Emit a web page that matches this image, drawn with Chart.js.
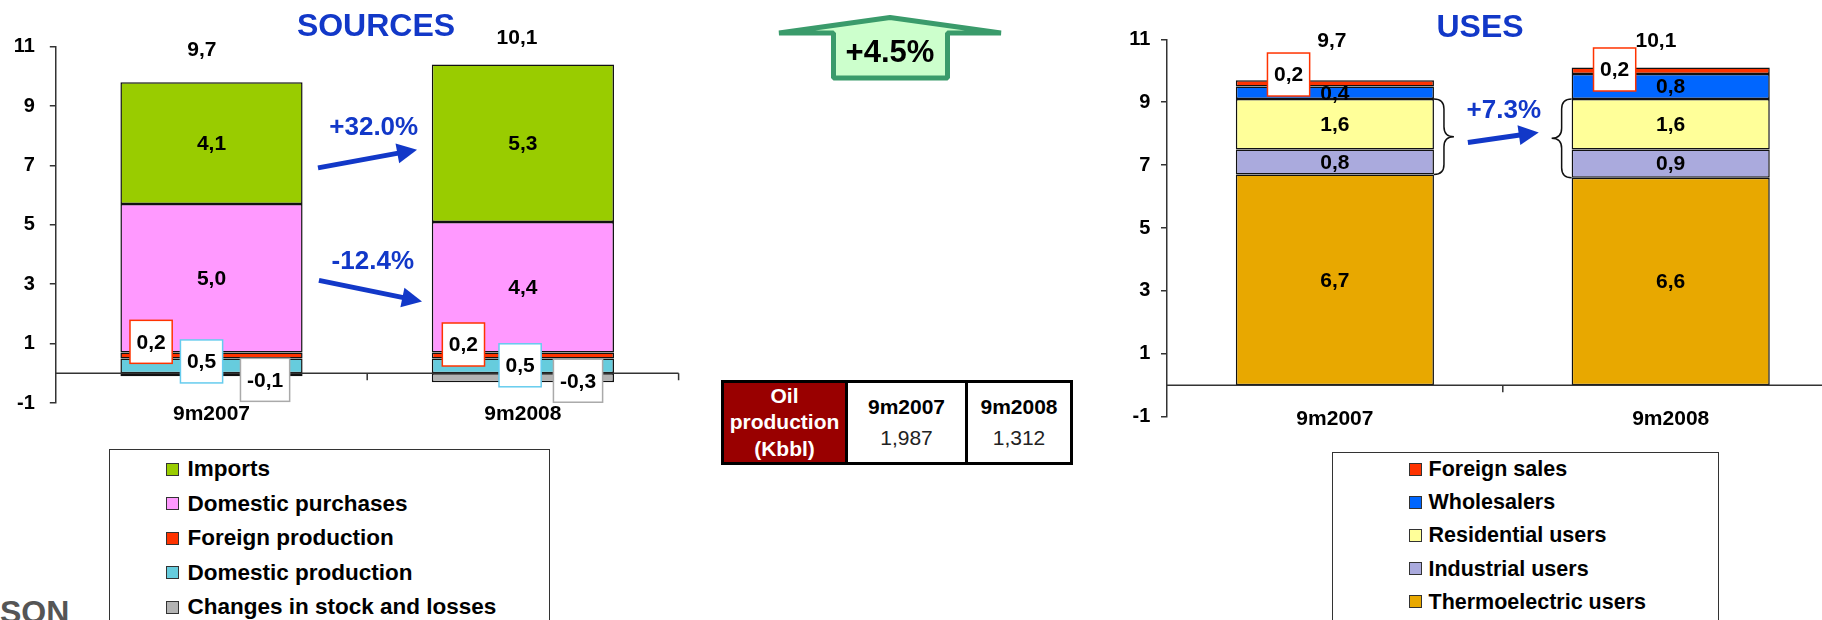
<!DOCTYPE html>
<html>
<head>
<meta charset="utf-8">
<title>Sources and Uses</title>
<script src="https://cdn.jsdelivr.net/npm/chart.js@4.4.1/dist/chart.umd.min.js"></script>
<style>
  html, body { margin:0; padding:0; background:#fff; }
  body { position:relative; width:1822px; height:620px; overflow:hidden; font-family:"Liberation Sans", Arial, Helvetica, sans-serif; }
  .abs { position:absolute; }
  .title { position:absolute; font-weight:bold; font-size:32px; line-height:32px; color:#1238c8; text-align:center; width:300px; }
  .legend-box { position:absolute; border:1.5px solid #333; background:#fff; box-sizing:border-box; }
  .legend-item { position:absolute; height:24px; line-height:24px; font-weight:bold; color:#000; white-space:nowrap; }
  .legend-sw { position:absolute; width:11px; height:11px; border:1px solid #333; }
  .cell { position:absolute; text-align:center; font-size:21px; }
  #growth { position:absolute; left:790px; top:34px; width:200px; text-align:center; font-weight:bold; font-size:31px; line-height:36px; color:#000; }
  #logo { position:absolute; left:0; top:596px; font-size:32px; line-height:32px; font-weight:bold; color:#555; }
</style>
</head>
<body>
<div class="abs" style="left:0;top:0;"><canvas id="sources" width="700" height="430"></canvas></div>
<div class="abs" style="left:1120px;top:0;"><canvas id="uses" width="730" height="445"></canvas></div>
<div class="title" style="left:226px;top:9px;">SOURCES</div>
<div class="title" style="left:1330px;top:10px;">USES</div>

<svg class="abs" style="left:0;top:0;" width="1822" height="120" viewBox="0 0 1822 120">
  <polygon points="779,33 890,17.5 1001,33 947.5,33 947.5,78 833.5,78 833.5,33" fill="#ccffcc" stroke="#3a9b6b" stroke-width="5" stroke-linejoin="bevel"/>
</svg>
<div id="growth"></div>

<div id="oil"></div>

<div id="legend-left" class="legend-box" style="left:109px;top:449px;width:441px;height:200px;"></div>
<div id="legend-right" class="legend-box" style="left:1332px;top:452px;width:387px;height:200px;"></div>
<div id="logo">SON</div>

<script>
// ---------------- DATA ----------------
const categories = ['9m2007', '9m2008'];
const yTicks = [-1, 1, 3, 5, 7, 9, 11];

// SOURCES (stack order bottom -> top)
const sourceSeries = ['Changes in stock and losses', 'Domestic production', 'Foreign production', 'Domestic purchases', 'Imports'];
const changesInStock     = [-0.1, -0.3];
const domesticProduction = [0.5, 0.5];
const foreignProduction  = [0.2, 0.2];
const domesticPurchases  = [5.0, 4.4];
const imports            = [4.1, 5.3];
const sourceTotals       = [9.7, 10.1];

// USES (stack order bottom -> top)
const useSeries = ['Thermoelectric users', 'Industrial users', 'Residential users', 'Wholesalers', 'Foreign sales'];
const thermoelectric = [6.7, 6.6];
const industrial     = [0.8, 0.9];
const residential    = [1.6, 1.6];
const wholesalers    = [0.4, 0.8];
const foreignSales   = [0.2, 0.2];
const useTotals      = [9.7, 10.1];

// Growth figures
const totalGrowth = '+4.5%';
const importsGrowth = '+32.0%';
const purchasesGrowth = '-12.4%';
const residentialIndustrialGrowth = '+7.3%';

// Oil production table
const oilHeader = ['Oil', 'production', '(Kbbl)'];
const oilPeriods = ['9m2007', '9m2008'];
const oilProduction = ['1,987', '1,312'];

// ---------------- STYLE ----------------
const FONT = '"Liberation Sans", Arial, Helvetica, sans-serif';
const BLUE = '#1238c8';
const sourceColors = ['#b3b3b3', '#66ccdd', '#ff3300', '#ff99ff', '#99cc00'];
const useColors = ['#e8a800', '#aaaadd', '#ffff99', '#0066ff', '#ff3300'];

Chart.defaults.font.family = FONT;

function fmt(v) { return v.toFixed(1).replace('.', ','); }

function drawArrow(ctx, x1, y1, x2, y2, color) {
  const headLen = 20, headW = 10, w = 5;
  const ang = Math.atan2(y2 - y1, x2 - x1);
  const bx = x2 - headLen * Math.cos(ang), by = y2 - headLen * Math.sin(ang);
  ctx.save();
  ctx.strokeStyle = color; ctx.fillStyle = color; ctx.lineWidth = w;
  ctx.beginPath(); ctx.moveTo(x1, y1); ctx.lineTo(bx + Math.cos(ang), by + Math.sin(ang)); ctx.stroke();
  ctx.beginPath(); ctx.moveTo(x2, y2);
  ctx.lineTo(bx + headW * Math.sin(ang), by - headW * Math.cos(ang));
  ctx.lineTo(bx - headW * Math.sin(ang), by + headW * Math.cos(ang));
  ctx.closePath(); ctx.fill();
  ctx.restore();
}

function drawBrace(ctx, x0, xt, yTop, yBot) {
  const xm = (x0 + xt) / 2, ym = (yTop + yBot) / 2, r = Math.abs(xt - x0) / 2;
  ctx.save();
  ctx.strokeStyle = '#111'; ctx.lineWidth = 1.5;
  ctx.beginPath();
  ctx.moveTo(x0, yTop);
  ctx.quadraticCurveTo(xm, yTop, xm, yTop + r);
  ctx.lineTo(xm, ym - r);
  ctx.quadraticCurveTo(xm, ym, xt, ym);
  ctx.quadraticCurveTo(xm, ym, xm, ym + r);
  ctx.lineTo(xm, yBot - r);
  ctx.quadraticCurveTo(xm, yBot, x0, yBot);
  ctx.stroke();
  ctx.restore();
}

function makeDecor(cfg) {
  return {
    id: 'decor_' + cfg.name,
    afterDatasetsDraw(chart) {
      const ctx = chart.ctx, xs = chart.scales.x, ys = chart.scales.y, ca = chart.chartArea;
      const px = v => xs.getPixelForValue(v), py = v => ys.getPixelForValue(v);
      // zero axis line with category separators
      const y0 = py(0);
      ctx.save();
      ctx.strokeStyle = '#333'; ctx.lineWidth = 1.5;
      ctx.beginPath(); ctx.moveTo(ca.left, y0); ctx.lineTo(ca.right, y0);
      for (let i = 0; i < chart.data.labels.length; i++) {
        const xb = px(i + 0.5);
        ctx.moveTo(xb, y0); ctx.lineTo(xb, y0 + 7);
      }
      ctx.stroke();
      ctx.restore();

      // category labels drawn from the x scale (when the axis labels are hidden)
      if (cfg.categoryLabelAt !== undefined) {
        ctx.save();
        ctx.font = 'bold 21px ' + FONT; ctx.textAlign = 'center'; ctx.textBaseline = 'middle'; ctx.fillStyle = '#000';
        chart.data.labels.forEach((l, i) => ctx.fillText(l, px(i), py(cfg.categoryLabelAt)));
        ctx.restore();
      }

      // inline segment labels
      ctx.save();
      ctx.font = 'bold 21px ' + FONT; ctx.textAlign = 'center'; ctx.textBaseline = 'middle'; ctx.fillStyle = '#000';
      chart.data.datasets.forEach((ds, di) => {
        if (!ds.inlineLabel) return;
        chart.getDatasetMeta(di).data.forEach((el, i) => {
          ctx.fillText(fmt(ds.data[i]), el.x, (el.y + el.base) / 2 + 1);
        });
      });
      ctx.restore();

      // braces
      (cfg.braces || []).forEach(b => {
        const lo = chart.getDatasetMeta(b.fromDs).data[b.index];
        const hi = chart.getDatasetMeta(b.toDs).data[b.index];
        const edge = b.side === 'right' ? hi.x + hi.width / 2 : hi.x - hi.width / 2;
        const tip = b.side === 'right' ? edge + 20 : edge - 20;
        drawBrace(ctx, edge, tip, hi.y, lo.base);
      });

      // arrows and growth labels
      (cfg.arrows || []).forEach(a => {
        drawArrow(ctx, px(a.from[0]), py(a.from[1]), px(a.to[0]), py(a.to[1]), BLUE);
        ctx.save();
        ctx.font = 'bold 26px ' + FONT; ctx.textAlign = 'center'; ctx.textBaseline = 'middle'; ctx.fillStyle = BLUE;
        ctx.fillText(a.text, px(a.at[0]), py(a.at[1]));
        ctx.restore();
      });

      // totals
      ctx.save();
      ctx.font = 'bold 21px ' + FONT; ctx.textAlign = 'center'; ctx.textBaseline = 'middle'; ctx.fillStyle = '#000';
      cfg.totals.forEach((t, i) => ctx.fillText(fmt(t), px(cfg.totalAt[i][0]), py(cfg.totalAt[i][1])));
      ctx.restore();

      // callout boxes
      (cfg.callouts || []).forEach(c => {
        const ds = chart.data.datasets[c.ds];
        c.at.forEach((pos, i) => {
          const txt = fmt(ds.data[i]);
          ctx.save();
          ctx.font = 'bold 21px ' + FONT;
          const w = ctx.measureText(txt).width + 13, h = 43;
          const cx = px(pos[0]), cy = py(pos[1]);
          ctx.fillStyle = '#fff';
          ctx.fillRect(cx - w / 2, cy - h / 2, w, h);
          ctx.strokeStyle = c.color; ctx.lineWidth = 1.5;
          ctx.strokeRect(cx - w / 2, cy - h / 2, w, h);
          ctx.fillStyle = '#000'; ctx.textAlign = 'center'; ctx.textBaseline = 'middle';
          ctx.fillText(txt, cx, cy + 1);
          ctx.restore();
        });
      });
    }
  };
}

function baseOptions(o) {
  return {
    responsive: false, animation: false, devicePixelRatio: 1,
    layout: { padding: o.padding },
    plugins: { legend: { display: false }, tooltip: { enabled: false } },
    datasets: { bar: { categoryPercentage: 1, barPercentage: o.barPct } },
    scales: {
      x: {
        stacked: true, offset: true,
        border: { display: false },
        grid: { display: false, drawTicks: false },
        ticks: { display: o.xTicks, font: { size: 21, weight: 'bold' }, color: '#000', padding: o.xPad, maxRotation: 0 },
        afterFit(s) { s.height = o.xHeight; }
      },
      y: {
        stacked: true, min: -1, max: 11,
        afterBuildTicks(s) { s.ticks = yTicks.map(v => ({ value: v })); },
        afterFit(s) { s.width = o.yWidth; },
        border: { display: true, color: '#333', width: 1.5 },
        grid: { drawOnChartArea: false, drawTicks: true, tickLength: 6, color: '#333', lineWidth: 1.5 },
        ticks: { font: { size: 20, weight: 'bold' }, color: '#000', padding: o.yPad }
      }
    }
  };
}

function ds(label, data, color, inline) {
  return { label, data, backgroundColor: color, borderColor: '#111', borderWidth: 1.5, borderSkipped: false, inlineLabel: inline };
}

// ---------------- SOURCES CHART ----------------
const sourceValues = [changesInStock, domesticProduction, foreignProduction, domesticPurchases, imports];
const sourceInline = [false, false, false, true, true];
new Chart(document.getElementById('sources'), {
  type: 'bar',
  data: {
    labels: categories,
    datasets: sourceSeries.map((n, i) => ds(n, sourceValues[i], sourceColors[i], sourceInline[i]))
  },
  options: baseOptions({ padding: { top: 46.7, left: 0, right: 21.4, bottom: 1 }, barPct: 0.585, xTicks: true, xPad: -1, xHeight: 25, yWidth: 55.8, yPad: 15 }),
  plugins: [makeDecor({
    name: 'sources',
    totals: sourceTotals,
    totalAt: [[-0.031, 10.89], [0.981, 11.29]],
    callouts: [
      { ds: 2, color: '#ff3300', at: [[-0.194, 1.06], [0.809, 0.97]] },
      { ds: 1, color: '#66ccee', at: [[-0.032, 0.40], [0.991, 0.27]] },
      { ds: 0, color: '#aaaaaa', at: [[0.172, -0.22], [1.177, -0.25]] }
    ],
    arrows: [
      { from: [0.342, 6.92], to: [0.660, 7.53], text: importsGrowth, at: [0.521, 8.27] },
      { from: [0.345, 3.13], to: [0.676, 2.42], text: purchasesGrowth, at: [0.518, 3.76] }
    ]
  })]
});

// ---------------- USES CHART ----------------
const useValues = [thermoelectric, industrial, residential, wholesalers, foreignSales];
const useInline = [true, true, true, true, false];
new Chart(document.getElementById('uses'), {
  type: 'bar',
  data: {
    labels: categories,
    datasets: useSeries.map((n, i) => ds(n, useValues[i], useColors[i], useInline[i]))
  },
  options: baseOptions({ padding: { top: 39.3, left: 0, right: 11.4, bottom: 28.3 }, barPct: 0.59, xTicks: false, xPad: 0, xHeight: 0, yWidth: 47, yPad: 10.6 }),
  plugins: [makeDecor({
    name: 'uses',
    categoryLabelAt: -1.083,
    totals: useTotals,
    totalAt: [[-0.009, 10.93], [0.956, 10.93]],
    callouts: [
      { ds: 4, color: '#ff3300', at: [[-0.138, 9.88], [0.833, 10.04]] }
    ],
    braces: [
      { index: 0, fromDs: 1, toDs: 2, side: 'right' },
      { index: 1, fromDs: 1, toDs: 2, side: 'left' }
    ],
    arrows: [
      { from: [0.396, 7.72], to: [0.607, 8.04], text: residentialIndustrialGrowth, at: [0.503, 8.73] }
    ]
  })]
});

// ---------------- HTML PARTS ----------------
document.getElementById('growth').textContent = totalGrowth;

(function buildTable() {
  const t = document.getElementById('oil');
  const add = (style, html, cls) => {
    const d = document.createElement('div');
    d.className = cls || 'abs';
    d.setAttribute('style', style);
    if (html !== undefined) d.innerHTML = html;
    t.appendChild(d);
  };
  // frame and cells
  add('left:721px;top:380px;width:352px;height:85px;border:3px solid #000;box-sizing:border-box;background:#fff;');
  add('left:724px;top:383px;width:121px;height:79px;background:#990000;');
  add('left:845px;top:383px;width:3px;height:79px;background:#000;');
  add('left:965px;top:383px;width:3px;height:79px;background:#000;');
  // header text
  add('left:724px;top:383px;width:121px;line-height:26.3px;color:#fff;font-weight:bold;', oilHeader.join('<br>'), 'cell');
  // period columns
  const cols = [[848, 117], [968, 102]];
  oilPeriods.forEach((p, i) => {
    add('left:' + cols[i][0] + 'px;top:391px;width:' + cols[i][1] + 'px;line-height:31px;color:#222;',
        '<b style="color:#000">' + p + '</b><br>' + oilProduction[i], 'cell');
  });
})();

function buildLegend(el, names, colors, o) {
  const order = names.map((n, i) => i).reverse();
  order.forEach((idx, row) => {
    const cy = o.y0 + row * o.dy;
    const sw = document.createElement('div');
    sw.className = 'legend-sw';
    sw.style.left = (o.swX - o.boxX) + 'px';
    sw.style.top = (cy - 6.5 - o.boxY) + 'px';
    sw.style.background = colors[idx];
    el.appendChild(sw);
    const tx = document.createElement('div');
    tx.className = 'legend-item';
    tx.style.left = (o.txX - o.boxX) + 'px';
    tx.style.top = (cy - 12 - o.boxY) + 'px';
    tx.style.fontSize = o.fs + 'px';
    tx.textContent = names[idx];
    el.appendChild(tx);
  });
}
buildLegend(document.getElementById('legend-left'), sourceSeries, sourceColors,
  { boxX: 110.5, boxY: 450.5, swX: 166, txX: 188, y0: 469.5, dy: 34.6, fs: 22.5 });
buildLegend(document.getElementById('legend-right'), useSeries, useColors,
  { boxX: 1333.5, boxY: 453.5, swX: 1409, txX: 1429, y0: 469.5, dy: 33.2, fs: 21.5 });
</script>
</body>
</html>
